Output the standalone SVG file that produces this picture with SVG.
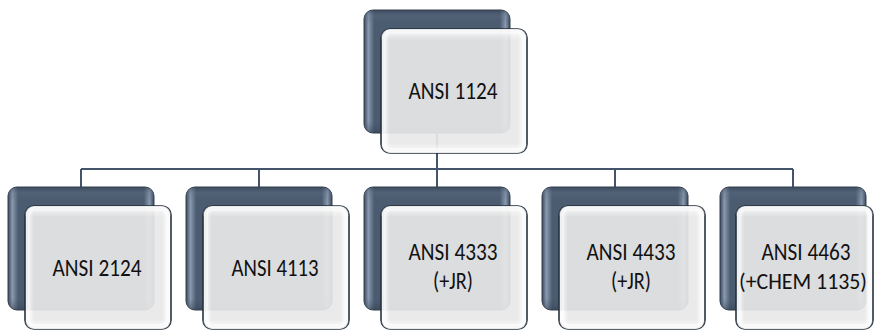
<svg xmlns="http://www.w3.org/2000/svg" width="874" height="331" viewBox="0 0 874 331">
<defs>
<linearGradient id="backH" x1="0" y1="0" x2="1" y2="0">
<stop offset="0" stop-color="#3a4759"/>
<stop offset="0.03" stop-color="#8a9ab0"/>
<stop offset="0.07" stop-color="#4b5b70"/>
<stop offset="0.93" stop-color="#4b5b70"/>
<stop offset="0.97" stop-color="#8a9ab0"/>
<stop offset="1" stop-color="#3a4759"/>
</linearGradient>
<linearGradient id="backV" x1="0" y1="0" x2="0" y2="1">
<stop offset="0" stop-color="#2e3a4a" stop-opacity="0.5"/>
<stop offset="0.05" stop-color="#5f7086" stop-opacity="0.3"/>
<stop offset="0.12" stop-color="#4b5b70" stop-opacity="0"/>
<stop offset="0.9" stop-color="#4b5b70" stop-opacity="0"/>
<stop offset="1" stop-color="#2e3a4a" stop-opacity="0.5"/>
</linearGradient>
<linearGradient id="frontH" x1="0" y1="0" x2="1" y2="0">
<stop offset="0" stop-color="#ffffff"/>
<stop offset="0.04" stop-color="#f6f6f6"/>
<stop offset="0.06" stop-color="#e8e8e8"/>
<stop offset="0.94" stop-color="#e8e8e8"/>
<stop offset="0.96" stop-color="#f4f4f4"/>
<stop offset="1" stop-color="#ffffff"/>
</linearGradient>
<linearGradient id="frontV" x1="0" y1="0" x2="0" y2="1">
<stop offset="0" stop-color="#ffffff" stop-opacity="0.9"/>
<stop offset="0.05" stop-color="#ffffff" stop-opacity="0.4"/>
<stop offset="0.09" stop-color="#ffffff" stop-opacity="0"/>
<stop offset="0.92" stop-color="#ffffff" stop-opacity="0"/>
<stop offset="0.96" stop-color="#ffffff" stop-opacity="0.5"/>
<stop offset="1" stop-color="#ffffff" stop-opacity="0.9"/>
</linearGradient>
</defs>
<style>
.back{fill:url(#backH);stroke:#34414f;stroke-width:1}
.backs{fill:url(#backV)}
.front{fill:url(#frontH);fill-opacity:0.92;stroke:#27313d;stroke-width:1.6}
.fronts{fill:url(#frontV);stroke:none}
.inner{fill:none;stroke:#ffffff;stroke-opacity:0.55;stroke-width:1.5}
.conn{fill:none;stroke:#44546a;stroke-width:2}
text{font-family:Carlito,"Liberation Sans Narrow","Liberation Sans",sans-serif;font-size:25px;fill:#111111;text-anchor:middle}
.sm{font-size:23px}
</style>
<g id="connectors">
<path class="conn" d="M437 132 V187"/>
<path class="conn" d="M81 169 H793"/>
<path class="conn" d="M81 169 V187 M259 169 V187 M615 169 V187 M793 169 V187"/>
</g>
<g id="n1124">
<rect class="back" x="364" y="10" width="146" height="123" rx="9"/>
<rect class="backs" x="364" y="10" width="146" height="123" rx="9"/>
<rect class="front" x="381" y="29" width="146" height="124" rx="9"/>
<rect class="fronts" x="381" y="29" width="146" height="124" rx="9"/>
<rect class="inner" x="385" y="33" width="138" height="116" rx="6"/>
<text x="453" y="99" textLength="89" lengthAdjust="spacingAndGlyphs">ANSI 1124</text>
</g>
<g id="n2124">
<rect class="back" x="8" y="187" width="146" height="123" rx="9"/>
<rect class="backs" x="8" y="187" width="146" height="123" rx="9"/>
<rect class="front" x="25" y="206" width="146" height="123" rx="9"/>
<rect class="fronts" x="25" y="206" width="146" height="123" rx="9"/>
<rect class="inner" x="29" y="210" width="138" height="115" rx="6"/>
<text x="97" y="276" textLength="89" lengthAdjust="spacingAndGlyphs">ANSI 2124</text>
</g>
<g id="n4113">
<rect class="back" x="186" y="187" width="146" height="123" rx="9"/>
<rect class="backs" x="186" y="187" width="146" height="123" rx="9"/>
<rect class="front" x="203" y="206" width="146" height="123" rx="9"/>
<rect class="fronts" x="203" y="206" width="146" height="123" rx="9"/>
<rect class="inner" x="207" y="210" width="138" height="115" rx="6"/>
<text x="275" y="276" textLength="87" lengthAdjust="spacingAndGlyphs">ANSI 4113</text>
</g>
<g id="n4333">
<rect class="back" x="364" y="187" width="146" height="123" rx="9"/>
<rect class="backs" x="364" y="187" width="146" height="123" rx="9"/>
<rect class="front" x="381" y="206" width="146" height="123" rx="9"/>
<rect class="fronts" x="381" y="206" width="146" height="123" rx="9"/>
<rect class="inner" x="385" y="210" width="138" height="115" rx="6"/>
<text x="453" y="260" textLength="89" lengthAdjust="spacingAndGlyphs">ANSI 4333</text>
<text x="453" y="289" textLength="40" lengthAdjust="spacingAndGlyphs">(+JR)</text>
</g>
<g id="n4433">
<rect class="back" x="542" y="187" width="146" height="123" rx="9"/>
<rect class="backs" x="542" y="187" width="146" height="123" rx="9"/>
<rect class="front" x="559" y="206" width="146" height="123" rx="9"/>
<rect class="fronts" x="559" y="206" width="146" height="123" rx="9"/>
<rect class="inner" x="563" y="210" width="138" height="115" rx="6"/>
<text x="631" y="260" textLength="89" lengthAdjust="spacingAndGlyphs">ANSI 4433</text>
<text x="631" y="289" textLength="40" lengthAdjust="spacingAndGlyphs">(+JR)</text>
</g>
<g id="n4463">
<rect class="back" x="720" y="187" width="146" height="123" rx="9"/>
<rect class="backs" x="720" y="187" width="146" height="123" rx="9"/>
<rect class="front" x="736" y="206" width="137" height="123" rx="9"/>
<rect class="fronts" x="736" y="206" width="137" height="123" rx="9"/>
<rect class="inner" x="740" y="210" width="129" height="115" rx="6"/>
<text x="806" y="260" textLength="89" lengthAdjust="spacingAndGlyphs">ANSI 4463</text>
<text class="sm" x="803" y="289" textLength="128" lengthAdjust="spacingAndGlyphs">(+CHEM 1135)</text>
</g>
</svg>
